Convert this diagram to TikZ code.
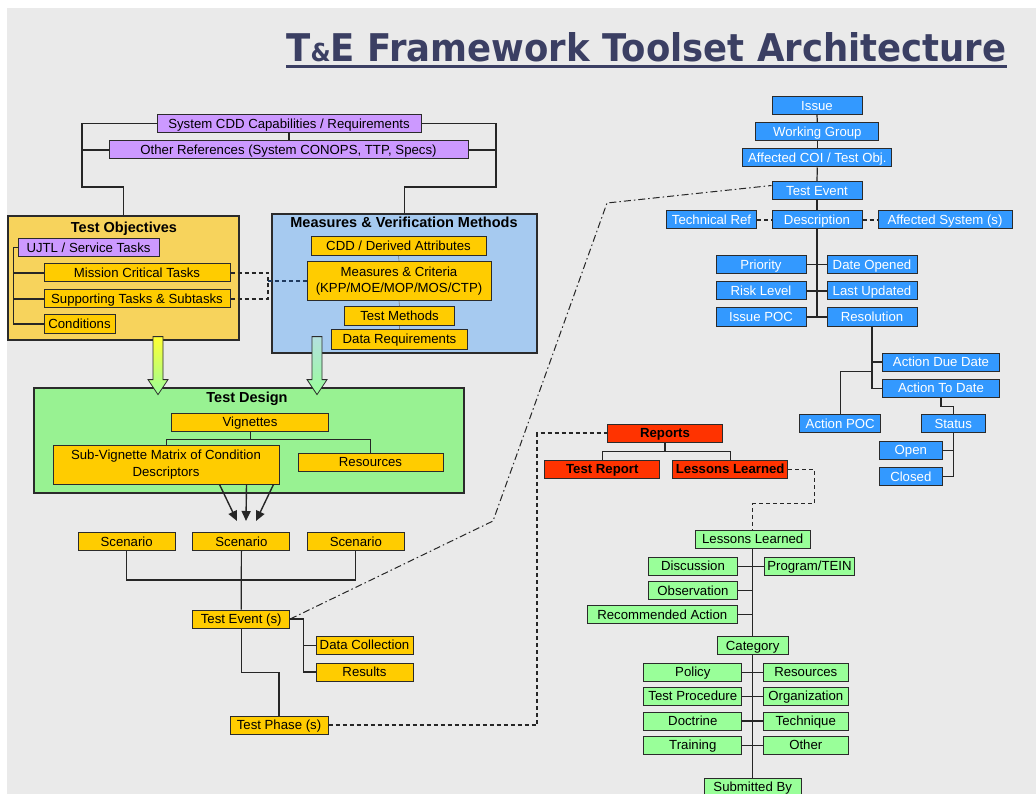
\documentclass[tikz,border=0pt]{standalone}
\usepackage{fontspec}
\setmainfont{Liberation Sans}
\newfontfamily\ttlfont{DejaVu Sans}
\usetikzlibrary{arrows.meta,calc}

\definecolor{bggray}{HTML}{EAEAEA}
\definecolor{ttlnavy}{HTML}{3B3F63}
\definecolor{tepurple}{HTML}{CC99FF}
\definecolor{tegold}{HTML}{FFCC00}
\definecolor{objgold}{HTML}{F7D35C}
\definecolor{measblue}{HTML}{A6CAF0}
\definecolor{designgreen}{HTML}{98F292}
\definecolor{teblue}{HTML}{3399FF}
\definecolor{tered}{HTML}{FF3300}
\definecolor{temint}{HTML}{99FF99}
\definecolor{edgegray}{HTML}{2B2B2B}
\definecolor{arrowyel}{HTML}{FFFF33}
\definecolor{arrowteal}{HTML}{B4E0E0}
\definecolor{dashnavy}{HTML}{1F3A5F}

\newcommand{\boxfont}{\fontsize{13.2}{16.5}\selectfont}
\newcommand{\headfont}{\fontsize{14.5}{17}\selectfont\bfseries}

\begin{document}
\begin{tikzpicture}[x=1pt,y=-1pt,
	bx/.style={draw=edgegray, line width=1pt, inner sep=0pt, minimum height=18pt,
		text height=9.3pt, text depth=0pt, font=\boxfont},
	wd/.style={minimum width=#1},
	purpbox/.style={bx, fill=tepurple},
	goldbox/.style={bx, fill=tegold},
	bluebox/.style={bx, fill=teblue, text=white},
	redbox/.style={bx, fill=tered, font=\boxfont\bfseries},
	greenbox/.style={bx, fill=temint},
	twoline/.style={align=center, text height=, text depth=},
	panel/.style={draw=edgegray, line width=1.2pt},
	panelhead/.style={font=\headfont, inner sep=0pt, text height=10.4pt, text depth=0pt},
	link/.style={draw=black!85, line width=1.2pt},
	dashlink/.style={link, dash pattern=on 4pt off 3pt},
	blockarrow/.style={draw=edgegray, line width=0.8pt, bottom color=temint}]

	\useasboundingbox (0,0) rectangle (1036,794);
	\clip (0,0) rectangle (1036,794);
	\fill[white] (0,0) rectangle (1036,794);
	\fill[bggray] (7,8) rectangle (1036,794);

	% title
	\node[anchor=base, inner sep=0pt, text=ttlnavy] (title) at (646.5,62)
		{\resizebox{720pt}{29pt}{\ttlfont\bfseries\fontsize{40}{40}\selectfont T{\fontsize{26}{26}\selectfont\&}E Framework Toolset Architecture}};
	\draw[line width=2.6pt, ttlnavy] ($(title.base west)+(0,4.5)$) -- ($(title.base east)+(0,4.5)$);

	% references
	\node[purpbox, wd=264] (sysCDD) at (289,123.5) {System CDD Capabilities / Requirements};
	\node[purpbox, wd=359] (otherRef) at (288.5,150) {Other References (System CONOPS, TTP, Specs)};

	% test objectives
	\node[panel, fill=objgold, minimum width=231pt, minimum height=124pt] (testObj) at (123.5,278) {};
	\node[panelhead] (objHead) at (124,227) {Test Objectives};
	\node[purpbox, wd=141] (ujtl) at (88.5,247.5) {UJTL / Service Tasks};
	\node[goldbox, wd=186] (mission) at (137,273) {Mission Critical Tasks};
	\node[goldbox, wd=186] (support) at (137,299) {Supporting Tasks \& Subtasks};
	\node[goldbox, wd=71] (cond) at (79.5,324) {Conditions};

	% measures
	\node[panel, fill=measblue, minimum width=265pt, minimum height=139pt] (measBox) at (404.5,283.5) {};
	\node[panelhead] (measHead) at (404,222) {Measures \& Verification Methods};
	\node[goldbox, wd=175, minimum height=19pt] (cddDer) at (398.5,246) {CDD / Derived Attributes};
	\node[goldbox, twoline, wd=184, minimum height=39pt] (measCrit) at (399,281) {Measures \& Criteria\\(KPP/MOE/MOP/MOS/CTP)};
	\node[goldbox, wd=110, minimum height=19pt] (testMeth) at (399.5,316) {Test Methods};
	\node[goldbox, wd=136, minimum height=20pt] (dataReq) at (399.5,339) {Data Requirements};

	% test design
	\node[panel, fill=designgreen, minimum width=430pt, minimum height=105pt] (design) at (249,440.5) {};
	\node[panelhead] (designHead) at (247,397.5) {Test Design};
	\node[goldbox, wd=157] (vign) at (250,422) {Vignettes};
	\node[goldbox, twoline, wd=226, minimum height=39pt] (subVig) at (166,464.5) {Sub-Vignette Matrix of Condition\\Descriptors};
	\node[goldbox, wd=145] (resour) at (370.5,462) {Resources};

	\shadedraw[blockarrow, top color=arrowyel] ($(testObj.south)+(29.5,-4)$) -- ++(10,0) -- ++(0,43) -- ++(5,0)
		-- ++(-10,15) -- ++(-10,-15) -- ++(5,0) -- cycle;
	\shadedraw[blockarrow, top color=arrowteal] ($(measBox.south)+(-92.5,-17)$) -- ++(10,0) -- ++(0,43) -- ++(5,0)
		-- ++(-10,15) -- ++(-10,-15) -- ++(5,0) -- cycle;

	% scenarios and events
	\node[goldbox, wd=97] (scenA) at (126.7,541.5) {Scenario};
	\node[goldbox, wd=97] (scenB) at (241.4,541.5) {Scenario};
	\node[goldbox, wd=97] (scenC) at (355.8,541.5) {Scenario};
	\node[goldbox, wd=97] (testEv) at (241.2,619) {Test Event (s)};
	\node[goldbox, wd=97] (dataCol) at (364.5,645.3) {Data Collection};
	\node[goldbox, wd=97] (results) at (364.5,672) {Results};
	\node[goldbox, wd=98] (testPh) at (279,725) {Test Phase (s)};

	% issue tree
	\node[bluebox, wd=90] (issue) at (817,105.5) {Issue};
	\node[bluebox, wd=123] (workGrp) at (817.3,131.5) {Working Group};
	\node[bluebox, wd=149] (affCOI) at (817.3,158) {Affected COI / Test Obj.};
	\node[bluebox, wd=90] (bTestEv) at (817,190.5) {Test Event};
	\node[bluebox, wd=90] (techRef) at (711.5,220) {Technical Ref};
	\node[bluebox, wd=90] (descr) at (817,220) {Description};
	\node[bluebox, wd=134] (affSys) at (945,220) {Affected System (s)};
	\node[bluebox, wd=90] (priority) at (761,264.5) {Priority};
	\node[bluebox, wd=90] (dateOp) at (872,264.5) {Date Opened};
	\node[bluebox, wd=90] (risk) at (761,291) {Risk Level};
	\node[bluebox, wd=90] (lastUpd) at (872,291) {Last Updated};
	\node[bluebox, wd=90] (issuePOC) at (761,317) {Issue POC};
	\node[bluebox, wd=90] (resol) at (872,317) {Resolution};
	\node[bluebox, wd=117] (actDue) at (941,362) {Action Due Date};
	\node[bluebox, wd=117] (actTo) at (941,388.3) {Action To Date};
	\node[bluebox, wd=81] (actPOC) at (840.2,423.5) {Action POC};
	\node[bluebox, wd=64] (status) at (953.2,423.5) {Status};
	\node[bluebox, wd=63] (open) at (910.8,450.2) {Open};
	\node[bluebox, wd=63] (closed) at (910.8,476.7) {Closed};

	% reports
	\node[redbox, wd=115] (reports) at (665,433) {Reports};
	\node[redbox, wd=115] (testRep) at (602.3,469.3) {Test Report};
	\node[redbox, wd=115] (lessRed) at (730.2,469.3) {Lessons Learned};

	% lessons learned tree
	\node[greenbox, wd=115] (lessGrn) at (752.7,539.3) {Lessons Learned};
	\node[greenbox, wd=89] (discus) at (693,566.2) {Discussion};
	\node[greenbox, wd=90] (progTein) at (809.5,566.2) {Program/TEIN};
	\node[greenbox, wd=89] (observ) at (693,590.5) {Observation};
	\node[greenbox, wd=150] (recAct) at (662.3,614.7) {Recommended Action};
	\node[greenbox, wd=71] (categ) at (752.7,645.7) {Category};
	\node[greenbox, wd=98] (policy) at (692.8,672.3) {Policy};
	\node[greenbox, wd=85] (resGrn) at (805.8,672.3) {Resources};
	\node[greenbox, wd=98] (testProc) at (692.8,696.3) {Test Procedure};
	\node[greenbox, wd=85] (organiz) at (805.8,696.3) {Organization};
	\node[greenbox, wd=98] (doctr) at (692.8,721) {Doctrine};
	\node[greenbox, wd=85] (techn) at (805.8,721) {Technique};
	\node[greenbox, wd=98] (train) at (692.8,745.3) {Training};
	\node[greenbox, wd=85] (other) at (805.8,745.3) {Other};
	\node[greenbox, wd=97] (submBy) at (752.7,787) {Submitted By};

	% references to panels
	\coordinate (lftBend) at (82,187);
	\coordinate (rgtBend) at (496,187);
	\draw[link] (sysCDD.west) -| (lftBend) -| (testObj.north);
	\draw[link] (otherRef.west) -- (otherRef.west -| lftBend);
	\draw[link] (sysCDD.east) -| (rgtBend) -| (measBox.north);
	\draw[link] (otherRef.east) -- (otherRef.east -| rgtBend);
	\draw[link] (sysCDD.south) -- (sysCDD.south |- otherRef.north);

	\draw[link] (ujtl.west) -- ++(-4,0) coordinate (ujtlBend) |- (cond.west);
	\draw[link] (ujtlBend) |- (mission.west);
	\draw[link] (ujtlBend) |- (support.west);

	\coordinate (dashJoin) at (268,281);
	\draw[dashlink] (mission.east) -| (dashJoin);
	\draw[dashlink] (support.east) -| (dashJoin);
	\draw[dashlink, draw=dashnavy] (dashJoin) -- (measCrit.west);

	\draw[draw=gray, line width=0.6pt] (cddDer.south) -- (measCrit.north);
	\draw[draw=gray, line width=0.6pt] (measCrit.south) -- (testMeth.north);
	\draw[draw=gray, line width=0.6pt] (testMeth.south) -- (dataReq.north);

	\draw[link, line width=1pt] (vign.south) -- ++(0,7.5) coordinate (vignJoin) -| (subVig.north);
	\draw[link, line width=1pt] (vignJoin) -| (resour.north);

	% scenario arrows
	\foreach \sx/\ex in {-60/-4.4, -33/4.6, -6/14.6}
		\draw[link, line width=1.4pt, -{Triangle[length=10pt,width=9pt]}]
			($(subVig.south east)+(\sx,0)$) -- ($(scenB.north)+(\ex,-11)$);

	\draw[link] (scenA.south) -- ++(0,29) -| (scenC.south);
	\draw[link] (scenB.south) -- (testEv.north);
	\draw[link] (testEv.east) -- ++(13,0) coordinate (evJoin) |- (results.west);
	\draw[link] (evJoin) |- (dataCol.west);
	\draw[link] (testEv.south) -- ++(0,44) -| (testPh.north);

	\coordinate (repBend) at (537,433);
	\draw[dashlink] (testPh.east) -| (repBend) -- (reports.west);

	\coordinate (ddA) at (493,521);
	\coordinate (ddB) at (607,203);
	\draw[link, line width=1pt, dash pattern=on 7pt off 3pt on 1.5pt off 3pt]
		(testEv.east) -- (ddA) -- (ddB) -- ($(bTestEv.west)+(0,-5)$);

	% issue tree links
	\draw[link] (issue.south) -- (workGrp.north);
	\draw[link] (workGrp.south) -- (affCOI.north);
	\draw[link] (affCOI.south) -- (bTestEv.north);
	\draw[link] (bTestEv.south) -- (descr.north);
	\draw[dashlink] (techRef.east) -- (descr.west);
	\draw[dashlink] (descr.east) -- (affSys.west);
	\draw[link] (descr.south) -- (descr.south |- resol.west);
	\draw[link] (priority.east) -- (dateOp.west);
	\draw[link] (risk.east) -- (lastUpd.west);
	\draw[link] (issuePOC.east) -- (resol.west);
	\draw[link] (resol.south) |- (actTo.west);
	\draw[link] (resol.south |- actDue.west) -- (actDue.west);
	\draw[link] (actPOC.north) |- (resol.south |- actDue.south);
	\draw[link] (actTo.south) -- ++(0,8.7) -| (status.north);
	\draw[link] (status.south) |- (closed.east);
	\draw[link] (status.south |- open.east) -- (open.east);

	% reports links
	\draw[link] (reports.south) -- ++(0,9) coordinate (repJoin) -| (testRep.north);
	\draw[link] (repJoin) -| (lessRed.north);
	\draw[dashlink] (lessRed.east) -- ++(26,0) |- ($(lessGrn.north)+(0,-26)$) -- (lessGrn.north);

	% lessons learned links
	\draw[link] (lessGrn.south) -- (categ.north);
	\draw[link] (categ.south) -- (submBy.north);
	\draw[link] (discus.east) -- (progTein.west);
	\draw[link] (observ.east) -- (observ.east -| lessGrn.south);
	\draw[link] (recAct.east) -- (recAct.east -| lessGrn.south);
	\draw[link] (policy.east) -- (resGrn.west);
	\draw[link] (testProc.east) -- (organiz.west);
	\draw[link] (doctr.east) -- (techn.west);
	\draw[link] (train.east) -- (other.west);
\end{tikzpicture}
\end{document}
